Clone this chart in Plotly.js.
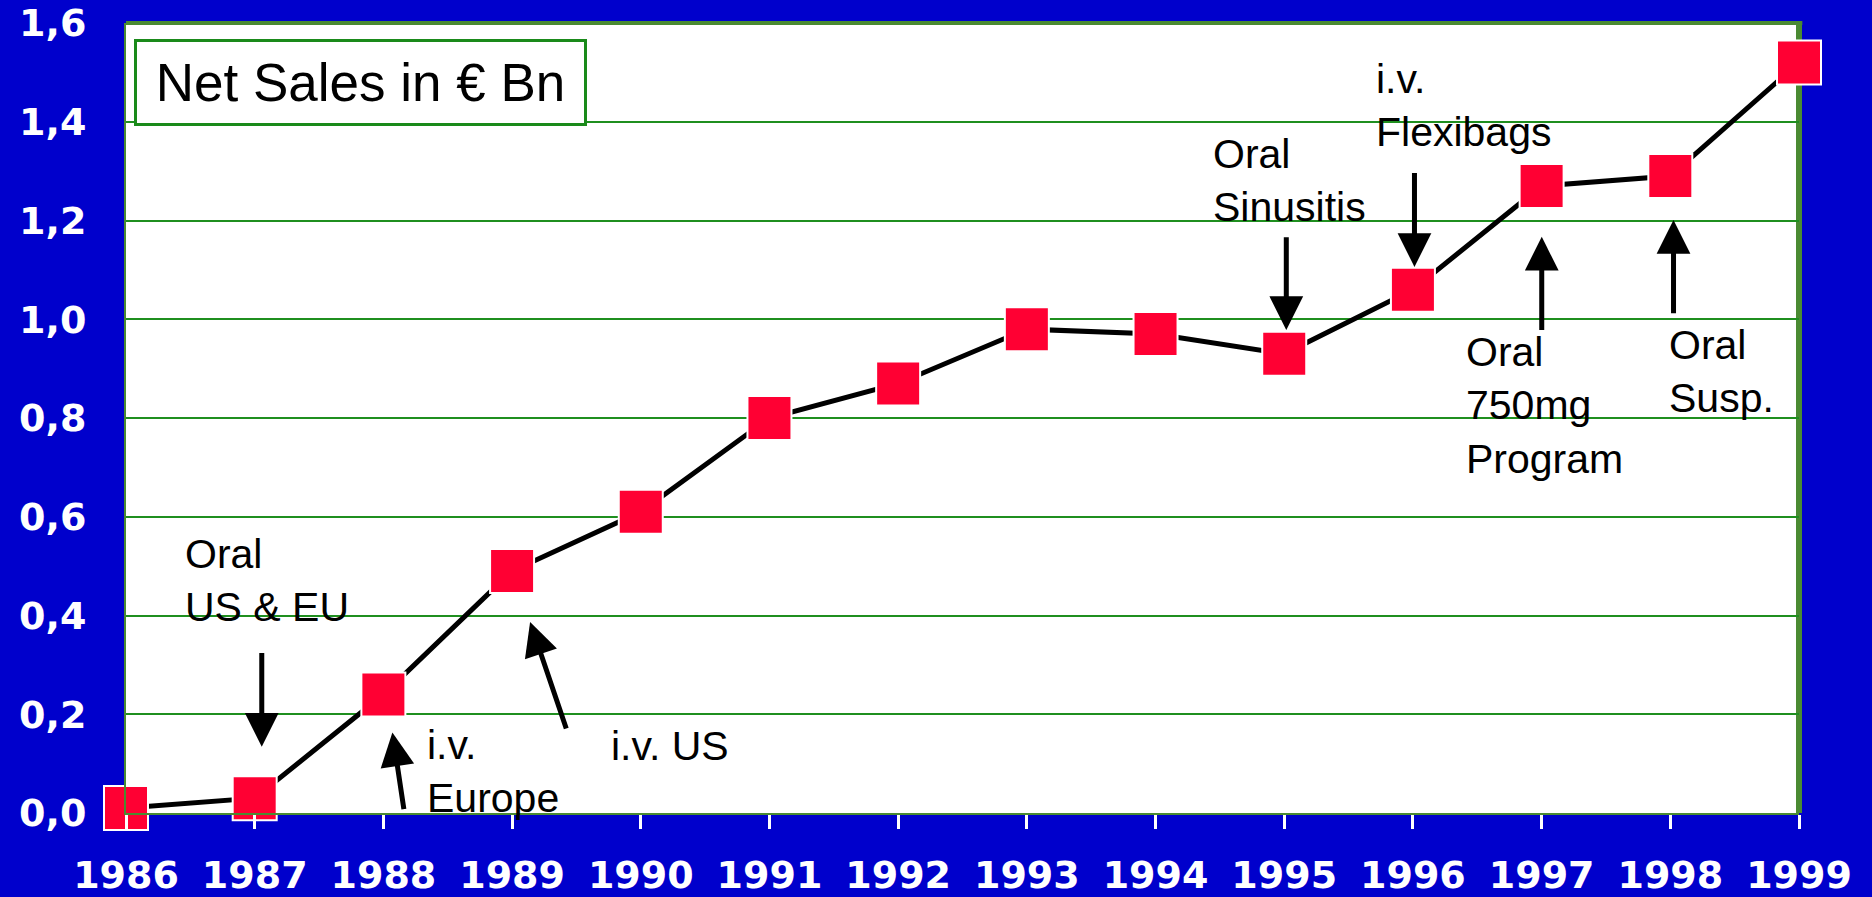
<!DOCTYPE html>
<html>
<head>
<meta charset="utf-8">
<script src="https://cdn.plot.ly/plotly-3.0.1.min.js"></script>
<style>
  html, body { margin: 0; padding: 0; background: #0000CC; }
  #chart { width: 1872px; height: 897px; }
</style>
</head>
<body>
<div id="chart"></div>
<script>
// ---- data ----
const years = [1986, 1987, 1988, 1989, 1990, 1991, 1992, 1993, 1994, 1995, 1996, 1997, 1998, 1999];
const yearLabels = ['1986', '1987', '1988', '1989', '1990', '1991', '1992', '1993', '1994', '1995', '1996', '1997', '1998', '1999'];
const netSales = [0.01, 0.03, 0.24, 0.49, 0.61, 0.80, 0.87, 0.98, 0.97, 0.93, 1.06, 1.27, 1.29, 1.52];
const yTickVals = [0, 0.2, 0.4, 0.6, 0.8, 1.0, 1.2, 1.4, 1.6];
const yTickText = ['0,0', '0,2', '0,4', '0,6', '0,8', '1,0', '1,2', '1,4', '1,6'];
const boxTitle = 'Net Sales in € Bn';

// ---- styles ----
const FRAME = '#4a8a32';
const GRID = '#1f8f1f';
const TXT = 'Liberation Sans, Arial, sans-serif';
const tickFont = { family: 'DejaVu Sans, sans-serif', size: 38, color: 'white', weight: 'bold' };
const noteFont = { family: TXT, size: 41, color: 'black' };

const trace = {
  type: 'scatter',
  mode: 'lines+markers',
  x: years,
  y: netSales,
  cliponaxis: false,
  line: { color: 'black', width: 5 },
  marker: { symbol: 'square', size: 44, color: '#FF0033', line: { color: 'white', width: 2 } },
  hoverinfo: 'x+y'
};

function note(text, x, y) {
  return { text: text, x: x, y: y, xref: 'x', yref: 'y', xanchor: 'left', yanchor: 'middle',
           align: 'left', showarrow: false, font: noteFont, borderpad: 0 };
}
function arrow(x, y, ax, ay) {
  return { text: '', x: x, y: y, ax: ax, ay: ay, xref: 'x', yref: 'y', axref: 'x', ayref: 'y',
           showarrow: true, arrowhead: 2, arrowsize: 1.35, arrowwidth: 5, arrowcolor: 'black', standoff: 0 };
}

const annotations = [
  { text: boxTitle, xref: 'paper', yref: 'paper', x: 0.00478, y: 0.9797, xanchor: 'left', yanchor: 'top',
    showarrow: false, font: { family: TXT, size: 53, color: 'black' }, bgcolor: 'white',
    bordercolor: '#1a8a1a', borderwidth: 3, borderpad: 0, width: 447, height: 81, align: 'center', valign: 'middle' },

  note('Oral<br>US &amp; EU', 1986.451, 0.470),
  note('i.v.<br>Europe', 1988.331, 0.085),
  note('i.v. US', 1989.761, 0.136),
  note('Oral<br>Sinusitis', 1994.439, 1.282),
  note('i.v.<br>Flexibags', 1995.705, 1.432),
  note('Oral<br>750mg<br>Program', 1996.405, 0.825),
  note('Oral<br>Susp.', 1997.982, 0.894),

  arrow(1987.055, 0.134, 1987.055, 0.327),
  arrow(1988.070, 0.163, 1988.161, 0.005),
  arrow(1989.140, 0.387, 1989.425, 0.168),
  arrow(1995.016, 0.978, 1995.016, 1.169),
  arrow(1996.012, 1.106, 1996.012, 1.299),
  arrow(1997.001, 1.167, 1997.001, 0.975),
  arrow(1998.025, 1.201, 1998.025, 1.009)
];

const shapes = [
  { type: 'line', xref: 'paper', yref: 'paper', x0: 0, x1: 1.002, y0: 1, y1: 1, layer: 'below',
    line: { color: FRAME, width: 4 } },
  { type: 'line', xref: 'paper', yref: 'paper', x0: 1, x1: 1, y0: 0, y1: 1.002, layer: 'below',
    line: { color: FRAME, width: 6 } }
];

const layout = {
  width: 1872,
  height: 897,
  margin: { l: 126, r: 73, t: 23, b: 84, pad: 0 },
  paper_bgcolor: '#0000CC',
  plot_bgcolor: 'white',
  showlegend: false,
  separators: ',.',
  xaxis: {
    range: [1986, 1999],
    tickvals: years,
    ticktext: yearLabels,
    ticks: 'outside', ticklen: 14, tickwidth: 3, tickcolor: 'white',
    showgrid: false, zeroline: false,
    showline: true, linecolor: FRAME, linewidth: 2,
    tickfont: tickFont,
    ticklabelstandoff: 13,
    fixedrange: true
  },
  yaxis: {
    range: [0, 1.6],
    tickvals: yTickVals,
    ticktext: yTickText,
    ticks: '',
    showgrid: true, gridcolor: GRID, gridwidth: 2,
    zeroline: false,
    showline: true, linecolor: FRAME, linewidth: 2,
    tickfont: tickFont,
    ticklabelstandoff: 30,
    fixedrange: true
  },
  annotations: annotations,
  shapes: shapes
};

Plotly.newPlot('chart', [trace], layout, { displayModeBar: false, responsive: false });
</script>
</body>
</html>
